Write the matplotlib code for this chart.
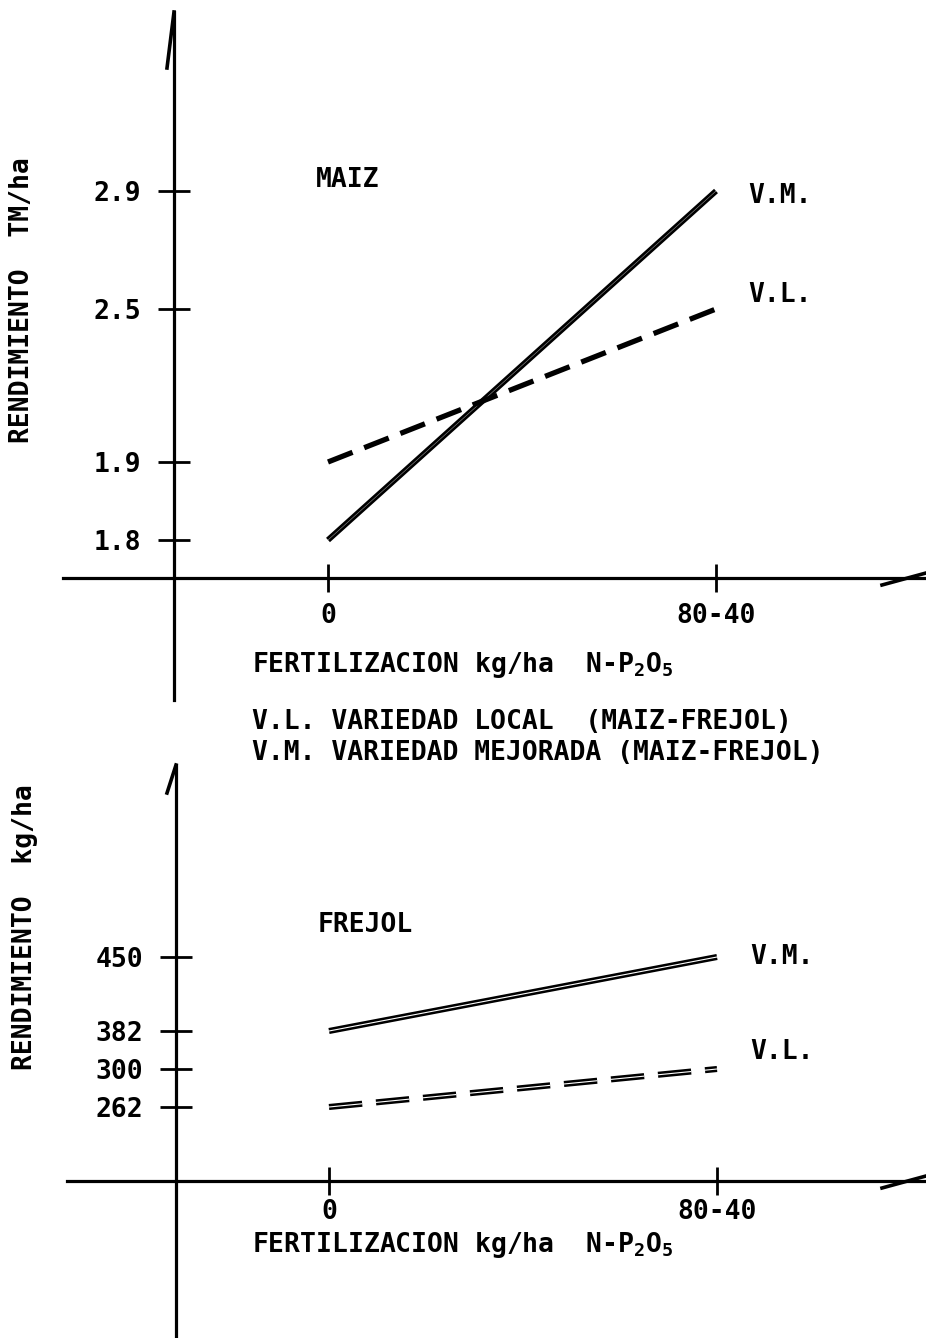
import numpy as np
import matplotlib.pyplot as plt

plt.rcParams['font.family'] = 'DejaVu Sans Mono'
plt.rcParams['font.weight'] = 'bold'
plt.rcParams['mathtext.fontset'] = 'custom'
plt.rcParams['mathtext.rm'] = 'DejaVu Sans Mono:bold'
plt.rcParams['lines.scale_dashes'] = False

# data
categories = ["0", "80-40"]

maiz_ticks = [1.8, 1.9, 2.5, 2.9]
maiz_vm = [1.8, 2.9]
maiz_vl = [1.9, 2.5]

frejol_ticks = [262, 300, 382, 450]
frejol_vm = [382, 450]
frejol_vl = [262, 300]

# layout (pixels on a 926x1338 page)
W, H = 926, 1338
FS = 19
maiz_tick_px = [540, 462, 309, 191]
frejol_tick_px = [1107, 1069, 1031, 957]


def piecewise(xs, ys):
    xs = np.asarray(xs, float)
    ys = np.asarray(ys, float)

    def f(v):
        v = np.asarray(v, float)
        out = np.interp(v, xs, ys)
        lo = ys[0] + (v - xs[0]) * (ys[1] - ys[0]) / (xs[1] - xs[0])
        hi = ys[-1] + (v - xs[-1]) * (ys[-1] - ys[-2]) / (xs[-1] - xs[-2])
        out = np.where(v < xs[0], lo, out)
        out = np.where(v > xs[-1], hi, out)
        return out
    return f


def setup(box, x0_px, x1_px, ticks, tick_px, yspine_px, xspine_px, hook):
    left, top, right, bottom = box
    ax = fig.add_axes([left / W, 1 - bottom / H, (right - left) / W, (bottom - top) / H])
    pos = [-p for p in tick_px]
    fwd = piecewise(ticks, pos)
    inv = piecewise(pos, ticks)
    ax.set_yscale('function', functions=(fwd, inv))
    ax.set_ylim(inv(-bottom), inv(-top))
    unit = x1_px - x0_px
    ax.set_xlim((left - x0_px) / unit, (right - x0_px) / unit)

    for s in ['top', 'right']:
        ax.spines[s].set_visible(False)
    fx = (yspine_px - left) / (right - left)
    fy = (bottom - xspine_px) / (bottom - top)
    ax.spines['left'].set_position(('axes', fx))
    ax.spines['bottom'].set_position(('axes', fy))
    for s in ['left', 'bottom']:
        ax.spines[s].set_linewidth(2.3)

    ax.set_yticks(ticks)
    ax.set_yticklabels([str(t) for t in ticks])
    ax.set_xticks(range(len(categories)))
    ax.set_xticklabels(categories)
    ax.tick_params(axis='y', direction='inout', length=23, width=2, pad=12, labelsize=FS)
    ax.tick_params(axis='x', direction='inout', length=20, width=2, pad=8, labelsize=FS)
    ax.minorticks_off()
    ax.patch.set_alpha(0)

    # hand drawn arrow hooks
    ax.plot([fx, fx - hook[0] / (right - left)], [1.0, 1.0 - hook[1] / (bottom - top)],
            transform=ax.transAxes, color='black', lw=2.6, clip_on=False)
    ax.plot([1.0, 1.0 - 44 / (right - left)], [fy + 5 / (bottom - top), fy - 7 / (bottom - top)],
            transform=ax.transAxes, color='black', lw=2.6, clip_on=False)
    return ax


def ftext(x, y, s, **kw):
    fig.text(x / W, 1 - y / H, s, fontsize=FS, va='center', **kw)


fig = plt.figure(figsize=(W / 100, H / 100), dpi=100)

# MAIZ
ax1 = setup((63, 12, 926, 700), 328, 716, maiz_ticks, maiz_tick_px, 174, 578, (7, 56))
x = range(len(categories))
ax1.plot(x, maiz_vm, color='black', lw=4.2, solid_capstyle='butt')
ax1.plot(x, maiz_vm, color='white', lw=0.4, alpha=0.6)
ax1.plot(x, maiz_vl, color='black', lw=3.8, dashes=(19, 9), dash_capstyle='butt')

ftext(316, 180, "MAIZ")
ftext(748, 196, "V.M.")
ftext(748, 295, "V.L.")
ftext(22, 300, "RENDIMIENTO  TM/ha", rotation=90, ha='center')
ftext(252, 665, r"FERTILIZACION kg/ha  N-P$_\mathrm{2}$O$_\mathrm{5}$")
ftext(252, 722, "V.L. VARIEDAD LOCAL  (MAIZ-FREJOL)")
ftext(252, 753, "V.M. VARIEDAD MEJORADA (MAIZ-FREJOL)")

# FREJOL
ax2 = setup((67, 765, 926, 1338), 329, 717, frejol_ticks, frejol_tick_px, 176, 1181, (9, 28))
ax2.tick_params(axis='x', pad=3)
ax2.plot(x, frejol_vm, color='black', lw=4.4, solid_capstyle='butt')
ax2.plot(x, frejol_vm, color='white', lw=0.8)
ax2.plot(x, frejol_vl, color='black', lw=4.4, dashes=(24, 10), dash_capstyle='butt')
ax2.plot(x, frejol_vl, color='white', lw=0.8, dashes=(24, 10))

ftext(318, 925, "FREJOL")
ftext(750, 957, "V.M.")
ftext(750, 1052, "V.L.")
ftext(25, 927, "RENDIMIENTO  kg/ha", rotation=90, ha='center')
ftext(252, 1245, r"FERTILIZACION kg/ha  N-P$_\mathrm{2}$O$_\mathrm{5}$")

fig.savefig("out.png", dpi=100)
